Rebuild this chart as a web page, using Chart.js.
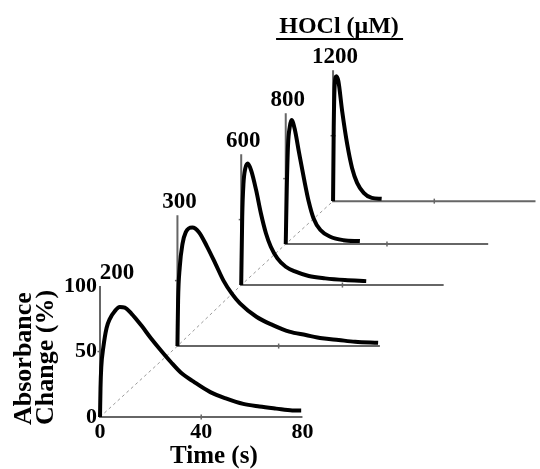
<!DOCTYPE html>
<html>
<head>
<meta charset="utf-8">
<script src="https://cdn.jsdelivr.net/npm/chart.js@4"></script>
<style>
  body { margin: 0; background: #fff; }
</style>
</head>
<body>
<canvas id="myChart" width="540" height="469"></canvas>
<script>
// HOCl concentrations (uM), one kinetic trace each
const concentrations = [200, 300, 600, 800, 1200];

// time (s) and absorbance change (%)
const time200 = [0, 0.2, 0.5, 1.3, 2.6, 3.9, 5.9, 7.8, 9.8, 12.4, 16.3, 20.2, 24, 28, 31.9, 37, 43.6, 50, 56.6, 63, 69.6, 76, 79.5];
const abs200 = [0, 22, 38, 53, 68, 75, 81, 84, 83.5, 79, 70, 60, 51, 42, 34, 27, 19, 14, 10, 8, 6.4, 5, 5];
const time300 = [0, 0.26, 0.9, 2, 3.3, 5.9, 8.5, 11.7, 15, 18.2, 21.5, 24.7, 31.2, 37.7, 44.2, 50.7, 57.2, 63.7, 70.2, 79.3];
const abs300 = [0, 35, 60, 78, 87, 90.6, 87, 76, 63, 50, 40, 32.6, 22.4, 16, 11, 8.4, 5.9, 4.6, 3.3, 2.5];
const time600 = [0, 0.4, 0.9, 1.6, 2.6, 3.9, 5.9, 7.8, 9.8, 11.7, 14.3, 17.6, 21.5, 26.7, 33.2, 41, 49.4];
const abs600 = [0, 52, 77.6, 89, 92.9, 87.8, 72.5, 54.7, 39.4, 29.3, 20.4, 14, 10.2, 6.9, 5.1, 3.8, 3];
const time800 = [0, 0.4, 0.9, 1.6, 2.3, 3.5, 5.2, 7.2, 9.1, 11, 13.7, 17.6, 22.8, 29.3];
const abs800 = [0, 42, 75.6, 89.6, 94.7, 88.3, 70.5, 50, 32.3, 19.6, 10.7, 5.6, 3, 2.3];
const time1200 = [0, 0.26, 0.65, 1.3, 2.1, 3.6, 5.6, 7.5, 9.5, 12.1, 15.3, 19.2];
const abs1200 = [0, 56, 89, 95.4, 91.6, 68.7, 43.3, 25.4, 14, 6.4, 2.5, 1.8];

const traceTimes = [time200, time300, time600, time800, time1200];
const traceValues = [abs200, abs300, abs600, abs800, abs1200];

// tick labels for the front panel
const timeTicks = [0, 40, 80];
const absTicks = [0, 50, 100];

// oblique "concentration" axis: where each panel's origin sits, in (s, %) units
const depthX = [0, 30.6, 55.8, 73.4, 92.1];
const depthY = [0, 54.2, 100.8, 132.1, 164.9];
const panelTime = 80;
const panelAbs = 100;

const serif = "'Liberation Serif', 'Times New Roman', serif";
const axisGray = "#666666";

const datasets = [];

// the traces, front panel first so it draws on top
concentrations.forEach((c, i) => {
  datasets.push({
    label: `${c} uM`,
    data: traceTimes[i].map((t, k) => ({ x: t + depthX[i], y: traceValues[i][k] + depthY[i] })),
    borderColor: "#000",
    borderWidth: 4,
    pointRadius: 0,
    cubicInterpolationMode: "monotone",
    clip: false,
  });
});

// L-shaped axes of every panel
concentrations.forEach((c, i) => {
  datasets.push({
    label: `frame ${c}`,
    data: [
      { x: depthX[i], y: depthY[i] + panelAbs },
      { x: depthX[i], y: depthY[i] },
      { x: depthX[i] + panelTime, y: depthY[i] },
    ],
    borderColor: axisGray,
    borderWidth: 2,
    pointRadius: 0,
    clip: false,
  });
  // small tick marks at 40 s and 50 %
  datasets.push({
    label: `ticks ${c}`,
    data: [
      { x: depthX[i] + 40, y: depthY[i] },
      { x: depthX[i], y: depthY[i] + 50 },
    ],
    showLine: false,
    pointStyle: "line",
    rotation: [90, 0],
    radius: 2.5,
    borderColor: axisGray,
    borderWidth: 1.5,
    clip: false,
  });
});

// dashed line joining the panel origins
datasets.push({
  label: "depth",
  data: depthX.map((dx, i) => ({ x: dx, y: depthY[i] })),
  borderColor: "#9a9a9a",
  borderWidth: 1,
  borderDash: [3, 3],
  pointRadius: 0,
});

// concentration labels, axis titles
const labelPlugin = {
  id: "panelLabels",
  afterDraw(chart) {
    const { ctx } = chart;
    const { x, y } = chart.scales;
    ctx.save();
    ctx.fillStyle = "#000";
    ctx.textAlign = "center";
    ctx.textBaseline = "alphabetic";
    ctx.font = `bold 23px ${serif}`;
    concentrations.forEach((c, i) => {
      const px = x.getPixelForValue(depthX[i]) + (i === 0 ? 17 : 2);
      const py = y.getPixelForValue(depthY[i] + panelAbs) - 7;
      ctx.fillText(String(c), px, py);
    });

    // HOCl header over the back panel
    const hx = x.getPixelForValue(depthX[4]) + 6;
    ctx.font = `bold 24px ${serif}`;
    ctx.fillText("HOCl (\u03bcM)", hx, 33);
    ctx.strokeStyle = "#000";
    ctx.lineWidth = 2;
    ctx.beginPath();
    ctx.moveTo(hx - 63, 39);
    ctx.lineTo(hx + 64, 39);
    ctx.stroke();

    // x title
    ctx.font = `bold 25px ${serif}`;
    ctx.fillText("Time (s)", x.getPixelForValue(45), 463);

    // y title, two rotated lines
    ctx.translate(0, y.getPixelForValue(0) + 8);
    ctx.rotate(-Math.PI / 2);
    ctx.textAlign = "left";
    ctx.font = `bold 26px ${serif}`;
    ctx.fillText("Absorbance", 0, 31);
    ctx.fillText("Change (%)", 0, 53);
    ctx.restore();
  },
};

const tickFont = { family: serif, size: 22, weight: "bold" };

new Chart(document.getElementById("myChart"), {
  type: "line",
  data: { datasets },
  options: {
    responsive: false,
    animation: false,
    layout: { padding: { top: 40, left: 0, right: 0, bottom: 0 } },
    plugins: {
      legend: { display: false },
      tooltip: { enabled: false },
    },
    scales: {
      x: {
        type: "linear",
        min: 0,
        max: 171.7,
        grid: { display: false, drawTicks: false },
        border: { display: false },
        afterBuildTicks: (axis) => {
          axis.ticks = timeTicks.map((v) => ({ value: v }));
        },
        afterFit: (axis) => {
          axis.height = 52;
        },
        ticks: {
          autoSkip: false,
          maxRotation: 0,
          padding: 2,
          color: "#000",
          font: tickFont,
        },
      },
      y: {
        type: "linear",
        min: 0,
        max: 288,
        grid: { display: false, drawTicks: false },
        border: { display: false },
        afterBuildTicks: (axis) => {
          axis.ticks = absTicks.map((v) => ({ value: v }));
        },
        afterFit: (axis) => {
          axis.width = 100;
        },
        ticks: {
          autoSkip: false,
          padding: 3,
          color: "#000",
          font: tickFont,
        },
      },
    },
  },
  plugins: [labelPlugin],
});
</script>
</body>
</html>
